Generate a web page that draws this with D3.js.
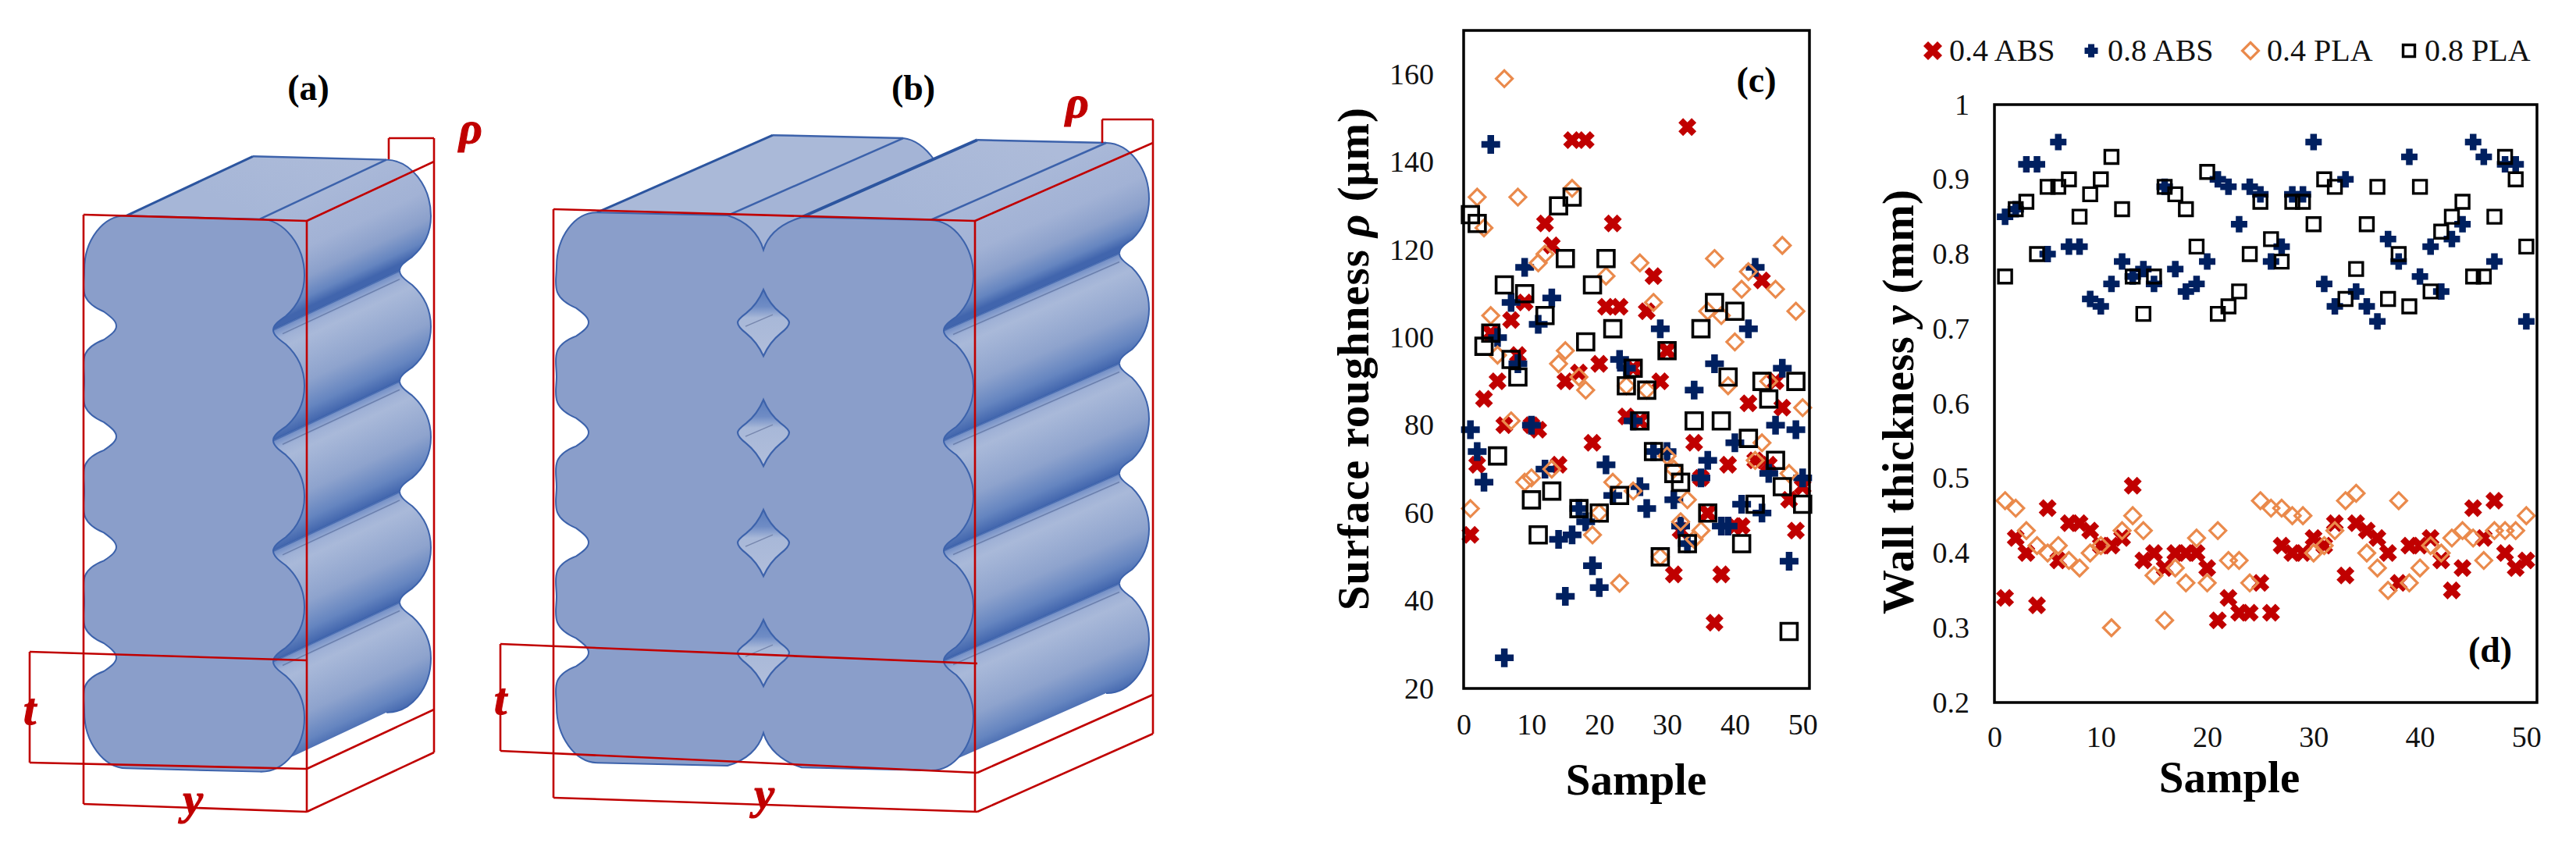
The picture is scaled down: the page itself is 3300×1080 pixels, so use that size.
<!DOCTYPE html>
<html><head><meta charset="utf-8">
<script src="https://cdnjs.cloudflare.com/ajax/libs/d3/7.8.5/d3.min.js"></script>
<style>html,body{margin:0;padding:0;background:#fff}svg{display:block}text{font-family:"Liberation Serif",serif}</style>
</head><body><svg id="c" width="3300" height="1080"></svg>
<script>
// ---- chart (c): surface roughness, sample 1..50
const samples = d3.range(1,51);
const rough04ABS = [55,71,86,101,90,80,104,96,108,80,79,126,121,71,90,145,92,145,76,94,107,126,107,82,93,81,106,114,90,97,46,56,148,76,68,60,35,46,71,57,57,85,72,113,71,90,84,63,56,66];
const rough08ABS = [79,74,67,144,100,27,108,94,116,80,103,70,109,54,41,55,61,58,48,43,71,64,95,93,81,66,61,74,102,74,63,57,53,88,68,72,94,57,57,76,62,102,116,60,69,80,93,49,79,68];
const rough04PLA = [61,132,125,105,96,159,81,132,67,68,117,119,70,94,97,134,91,88,55,60,114,67,44,89,65,117,88,108,50,73,70,58,63,54,56,106,118,105,89,99,111,115,72,76,90,111,121,69,106,84];
const rough08PLA = [128,126,98,101,73,112,95,91,110,63,55,105,65,130,118,132,61,99,112,60,118,102,64,89,93,81,88,74,50,97,69,67,53,81,102,60,108,81,91,106,53,77,62,90,86,72,66,33,90,62];
// ---- chart (d): wall thickness
const wall04ABS = [.34,.42,.40,.33,.46,.39,.44,.44,.43,.41,.41,.42,.49,.39,.40,.38,.40,.40,.40,.38,.31,.34,.32,.32,.36,.32,.41,.40,.40,.42,.41,.44,.37,.44,.43,.42,.40,.36,.41,.41,.42,.39,.35,.38,.46,.42,.47,.40,.38,.39];
const wall08ABS = [.85,.86,.92,.92,.80,.95,.81,.81,.74,.73,.76,.79,.77,.78,.76,.89,.78,.75,.76,.79,.90,.89,.84,.89,.88,.79,.81,.88,.88,.95,.76,.73,.90,.75,.73,.71,.82,.79,.93,.77,.81,.75,.82,.84,.95,.93,.79,.92,.92,.71];
const wall04PLA = [.47,.46,.43,.41,.40,.41,.39,.38,.40,.41,.30,.43,.45,.43,.37,.31,.38,.36,.42,.36,.43,.39,.39,.36,.47,.46,.46,.45,.45,.40,.41,.43,.47,.48,.40,.38,.35,.47,.36,.38,.41,.40,.42,.43,.42,.39,.43,.43,.43,.45];
const wall08PLA = [.77,.86,.87,.80,.89,.89,.90,.85,.88,.90,.93,.86,.77,.72,.77,.89,.88,.86,.81,.91,.72,.73,.75,.80,.87,.82,.79,.87,.87,.84,.90,.89,.74,.78,.84,.89,.74,.80,.73,.89,.75,.83,.85,.87,.77,.77,.85,.93,.90,.81];
const seriesNames = ["0.4 ABS","0.8 ABS","0.4 PLA","0.8 PLA"];
const seriesKinds = ["x","plus","diamond","square"];
const seriesColors = ["#c00000","#002060","#ea8a4c","#000000"];
const xTicks = [0,10,20,30,40,50];
const roughTicks = [20,40,60,80,100,120,140,160];
const wallTicks = [.2,.3,.4,.5,.6,.7,.8,.9,1];

const svg = d3.select("#c");
const RED="#c00000", BLUE="#3c62ab";
const defs = svg.append("defs");

// ---------- marker drawing ----------
function markerPath(kind, s){
  const p=d3.path();
  if(kind==="x"){p.moveTo(-s.x,-s.x);p.lineTo(s.x,s.x);p.moveTo(-s.x,s.x);p.lineTo(s.x,-s.x);}
  if(kind==="plus"){p.moveTo(-s.p,0);p.lineTo(s.p,0);p.moveTo(0,-s.p);p.lineTo(0,s.p);}
  if(kind==="diamond"){p.moveTo(0,-s.d);p.lineTo(s.d,0);p.lineTo(0,s.d);p.lineTo(-s.d,0);p.closePath();}
  if(kind==="square"){p.rect(-s.s,-s.s,2*s.s,2*s.s);}
  return p.toString();
}
function strokeW(kind,s){return kind==="x"?s.xw:kind==="plus"?s.pw:kind==="diamond"?s.dw:s.sw;}
function drawMarker(g,kind,color,s){
  return g.append("path").attr("d",markerPath(kind,s)).attr("fill","none").attr("stroke",color)
    .attr("stroke-width",strokeW(kind,s)).attr("stroke-linejoin","miter");
}

// ---------- scatter charts ----------
function chart(o){
  const x=d3.scaleLinear().domain([0,51]).range([o.l,o.r]);
  const y=d3.scaleLinear().domain(o.dom).range([o.b,o.t]);
  const g=svg.append("g");
  const ax=g.append("g").attr("transform",`translate(0,${o.b})`)
    .call(d3.axisBottom(x).tickValues(xTicks).tickSize(0).tickPadding(o.xpad).tickFormat(d=>d));
  const ay=g.append("g").attr("transform",`translate(${o.l},0)`)
    .call(d3.axisLeft(y).tickValues(o.ticks).tickSize(0).tickPadding(o.ypad).tickFormat(d=>d));
  [ax,ay].forEach(a=>{a.select(".domain").remove();
    a.selectAll("text").attr("font-family","Liberation Serif").attr("font-size",o.fs).attr("fill","#111");});
  o.series.forEach((vals,i)=>{
    vals.forEach((v,k)=>{
      drawMarker(g.append("g").attr("transform",`translate(${x(samples[k])},${y(v)})`),seriesKinds[i],seriesColors[i],o.size);
    });
  });
  g.append("rect").attr("x",o.l).attr("y",o.t).attr("width",o.r-o.l).attr("height",o.b-o.t)
    .attr("fill","none").attr("stroke","#000").attr("stroke-width",3.5);
}
chart({l:1875,r:2318,t:39,b:882,dom:[20,170],ticks:roughTicks,fs:38,xpad:32,ypad:38,
  series:[rough04ABS,rough08ABS,rough04PLA,rough08PLA],
  size:{x:8.5,xw:8.5,p:12,pw:8.5,d:10.5,dw:3.2,s:10.5,sw:3.6}});
chart({l:2555,r:3250,t:134,b:900,dom:[.2,1],ticks:wallTicks,fs:38,xpad:30,ypad:32,
  series:[wall04ABS,wall08ABS,wall04PLA,wall08PLA],
  size:{x:8.5,xw:8.5,p:10.5,pw:8.5,d:10.5,dw:3.2,s:8.5,sw:3.4}});

function label(txt,x,y,size,opt={}){
  const t=svg.append("text").attr("x",x).attr("y",y).attr("font-size",size)
    .attr("text-anchor",opt.anchor||"middle").attr("fill",opt.fill||"#000")
    .attr("font-weight",opt.weight||"bold");
  if(opt.italic)t.attr("font-style","italic");
  if(opt.heavy)t.attr("stroke",opt.fill||"#000").attr("stroke-width",opt.heavy);
  if(opt.rot!=null)t.attr("transform",`rotate(${opt.rot} ${x} ${y})`);
  if(opt.len)t.attr("textLength",opt.len).attr("lengthAdjust","spacing");
  return t.text(txt);
}
// axis titles
label("Sample",2096,1018,57);
label("Sample",2856,1015,57);
const yt1=label("",1753,460,57,{rot:-90,len:644});
yt1.append("tspan").text("Surface roughness ");
yt1.append("tspan").attr("font-style","italic").text("ρ");
yt1.append("tspan").text("  (μm)");
const yt2=label("",2451,515,57,{rot:-90,len:544});
yt2.append("tspan").text("Wall thickness ");
yt2.append("tspan").attr("font-style","italic").text("y");
yt2.append("tspan").text(" (mm)");
// panel labels
label("(c)",2250,118,46);
label("(d)",3190,848,46);
label("(a)",395,128,46);
label("(b)",1170,128,46);

// legend
const legendSize={x:9,xw:8.5,p:8.5,pw:8,d:10.5,dw:3.2,s:7.5,sw:3.4};
const legendMarkX=[2476,2679,2883,3086], legendTextX=[2497,2700,2904,3106];
seriesNames.forEach((n,i)=>{
  drawMarker(svg.append("g").attr("transform",`translate(${legendMarkX[i]},65)`),seriesKinds[i],seriesColors[i],legendSize);
  label(n,legendTextX[i],78,40,{anchor:"start",weight:"normal",fill:"#111"});
});

// ---------- 3D illustrations ----------
const layers=5;
function grad(id,x1,y1,x2,y2,stops){
  const g=defs.append("linearGradient").attr("id",id).attr("gradientUnits","userSpaceOnUse")
    .attr("x1",x1).attr("y1",y1).attr("x2",x2).attr("y2",y2);
  stops.forEach(s=>g.append("stop").attr("offset",s[0]).attr("stop-color",s[1]));
  return `url(#${id})`;
}
// one side of a stack of beads: list of lobes, each a start point + cubic segments
function sideLobes(B){
  const {bulge:xb,neck:xn,flat:xf,y0,P}=B, s=Math.sign(xb-xn), out=[], hook=14;
  const T=(x,y)=>[x,y+B.shear*(x-B.x0)];
  for(let k=0;k<layers;k++){
    const yt=y0+k*P, yb=yt+P, yc=yt+P/2, segs=[];
    let start;
    if(k===0){
      start=[xf,yt];
      segs.push([[xf+.55*(xb-xf),yt],[xb,yt+.23*P],[xb,yc]]);
    }else{
      start=[xn-s*2,yt];
      segs.push([[xn-s*2,yt+6],[xn+s*4,yt+11],[xn+s*hook,yt+18]]);
      segs.push([[xb-s*.23*(xb-xn),yt+.223*P],[xb,yt+.353*P],[xb,yc]]);
    }
    if(k===layers-1){
      segs.push([[xb,yb-.23*P],[xf+.55*(xb-xf),yb],[xf,yb]]);
    }else{
      segs.push([[xb,yb-.353*P],[xb-s*.23*(xb-xn),yb-.223*P],[xn+s*hook,yb-18]]);
      segs.push([[xn+s*4,yb-11],[xn-s*2,yb-6],[xn-s*2,yb]]);
    }
    out.push({start:T(...start),segs:segs.map(sg=>sg.map(p=>T(...p))),raw:{yt,yb}});
  }
  return out;
}
function fw(l,dx=0,dy=0,move=true){
  let d=(move?"M":"L")+(l.start[0]+dx)+","+(l.start[1]+dy);
  l.segs.forEach(sg=>{d+="C"+sg.map(p=>(p[0]+dx)+","+(p[1]+dy)).join(" ");});
  return d;
}
function rv(l,dx=0,dy=0){
  const pts=[l.start]; l.segs.forEach(sg=>pts.push(sg[2]));
  let e=pts[pts.length-1], d="L"+(e[0]+dx)+","+(e[1]+dy);
  for(let i=l.segs.length-1;i>=0;i--){
    const sg=l.segs[i], to=pts[i];
    d+="C"+[sg[1],sg[0],to].map(p=>(p[0]+dx)+","+(p[1]+dy)).join(" ");
  }
  return d;
}
const lobeStops=[[0,"#6f8cc5"],[.1,"#9fb1d6"],[.2,"#a9b9d9"],[.6,"#8ea3cd"],[.85,"#6585c0"],[1,"#4165ad"]];
const firstStops=[[0,"#a9b8d8"],[.45,"#a2b2d5"],[.72,"#8ba0cb"],[.9,"#6585c0"],[1,"#4165ad"]];
function drawLobes(g,R,d,id){
  const len=Math.hypot(d[0],d[1]), n=[-d[1]/len,d[0]/len];
  R.forEach((l,i)=>{
    const st=l.start, span=R[0].raw.yb-R[0].raw.yt, q=span*n[1];
    const f=grad(`${id}${i}`,st[0],st[1],st[0]+n[0]*q,st[1]+n[1]*q,i===0?firstStops:lobeStops);
    g.append("path").attr("d",fw(l)+rv(l,d[0],d[1])+"Z").attr("fill",f);
    g.append("path").attr("d",fw(l,d[0],d[1])).attr("fill","none").attr("stroke",BLUE).attr("stroke-width",2);
    if(i>0){
      g.append("path").attr("d",`M${st[0]},${st[1]}L${st[0]+d[0]},${st[1]+d[1]}`).attr("stroke",BLUE).attr("stroke-width",2.5).attr("opacity",.75);
      const a=[st[0]+12,st[1]+5], b=[st[0]+d[0],st[1]+d[1]+11];
      g.append("path").attr("d",`M${a[0]},${a[1]}L${b[0]},${b[1]}`).attr("stroke","#6c80ad").attr("stroke-width",1.6);
    }
  });
}
function poly(g,pts,fill){g.append("path").attr("d",d3.line()(pts)+"Z").attr("fill",fill);}
function line(g,a,b,c=BLUE,w=3){g.append("path").attr("d",`M${a[0]},${a[1]}L${b[0]},${b[1]}`).attr("stroke",c).attr("stroke-width",w).attr("fill","none");}
const FRONT="#8a9eca", TOP="#aab9d8";

function redLines(g,segs){
  segs.forEach(s=>line(g,s[0],s[1],RED,2.6));
}

// ---- (a)
(function(){
  const g=svg.append("g");
  const d=[162,-76], y0=275, P=141.6, sh=.025, x0=108;
  const RL=sideLobes({bulge:390,neck:352,flat:333,y0,P,shear:sh,x0});
  const LL=sideLobes({bulge:108,neck:147,flat:162,y0,P,shear:sh,x0});
  const A=LL[0].start, C=RL[0].start;
  const topG=grad("topA",C[0],C[1],C[0]+50,C[1]-110,[[0,"#a6b6d7"],[1,"#adbbd9"]]);
  poly(g,[A,[A[0]+d[0],A[1]+d[1]],[C[0]+d[0],C[1]+d[1]],C],topG);
  drawLobes(g,RL,d,"la");
  line(g,A,[A[0]+d[0],A[1]+d[1]],"#2c559f",3);
  line(g,[A[0]+d[0],A[1]+d[1]],[C[0]+d[0],C[1]+d[1]],BLUE,2.5);
  line(g,C,[C[0]+d[0],C[1]+d[1]],BLUE,2.5);
  let dp=fw(RL[0]);
  RL.slice(1).forEach(l=>dp+=fw(l,0,0,false));
  [...LL].reverse().forEach(l=>dp+=rv(l));
  g.append("path").attr("d",dp+"Z").attr("fill",FRONT).attr("stroke",BLUE).attr("stroke-width",2);
  // red dimension lines
  redLines(g,[
    [[107,275],[393,283]],[[107,275],[107,1030]],[[393,283],[393,1040]],[[107,1030],[393,1040]],
    [[393,283],[556,207]],[[556,177],[556,964]],[[498,177],[556,177]],[[498,177],[498,204]],
    [[38,835],[393,846]],[[38,977],[393,985]],[[38,835],[38,977]],
    [[393,985],[556,909]],[[393,1040],[556,964]]
  ]);
  label("ρ",603,183,58,{fill:RED,italic:true,heavy:1.2});
  label("t",38,928,58,{fill:RED,italic:true,heavy:1.2});
  label("y",247,1043,58,{fill:RED,italic:true,heavy:1.2});
})();

// ---- (b)
(function(){
  const g=svg.append("g");
  const d=[225,-99], y0=271, P=141, sh=.023, x0=713;
  const RL=sideLobes({bulge:1247,neck:1211,flat:1192,y0,P,shear:sh,x0});
  const LL=sideLobes({bulge:713,neck:752,flat:765,y0,P,shear:sh,x0});
  const T=(x,y)=>[x,y+sh*(x-x0)];
  const A=LL[0].start, C=RL[0].start, N1=T(932,y0), N2=T(1027,y0), tip=T(978,y0+43);
  const add=(p)=>[p[0]+d[0],p[1]+d[1]];
  // left bead top, then its lobe behind right bead
  poly(g,[A,add(A),add(N1),N1],TOP);
  g.append("path").attr("d",`M${N1}L${add(N1)}C${add(N1)[0]+18},${add(N1)[1]+2} ${add(N1)[0]+30},${add(N1)[1]+14} ${add(N1)[0]+40},${add(N1)[1]+28}L${add(N2)[0]-40},${add(N2)[1]+30}L${N2}L${tip}Z`).attr("fill","#a4b4d6");
  g.append("path").attr("d",`M${add(N1)}C${add(N1)[0]+18},${add(N1)[1]+2} ${add(N1)[0]+30},${add(N1)[1]+14} ${add(N1)[0]+40},${add(N1)[1]+28}`).attr("fill","none").attr("stroke",BLUE).attr("stroke-width",2);
  line(g,A,add(A),"#2c559f",3);
  line(g,add(A),add(N1),BLUE,2.5);
  line(g,N1,add(N1),BLUE,2.5);
  // right bead top
  const topG=grad("topB",C[0],C[1],C[0]+60,C[1]-130,[[0,"#a6b6d7"],[1,"#adbbd9"]]);
  poly(g,[N2,add(N2),add(C),C],topG);
  drawLobes(g,RL,d,"lb");
  line(g,N2,add(N2),"#2c559f",4);
  line(g,add(N2),add(C),BLUE,2.5);
  line(g,C,add(C),BLUE,2.5);
  // front
  const notch=(a,t,b)=>{const s=Math.sign(t[1]-a[1]), h=Math.sign(b[0]-a[0]);
    return `C${a[0]+h*26},${a[1]+s*8} ${t[0]-h*6},${t[1]-s*20} ${t[0]},${t[1]}C${t[0]+h*6},${t[1]-s*20} ${b[0]-h*26},${b[1]+s*8} ${b[0]},${b[1]}`;};
  const yB=y0+layers*P;
  const Nb1=T(932,yB), Nb2=T(1027,yB), tipB=T(978,yB-43);
  let dp=`M${A}L${N1}`+notch(N1,tip,N2)+`L${C}`;
  dp+=fw(RL[0]).replace(/^M[^C]*/,"");
  RL.slice(1).forEach(l=>dp+=fw(l,0,0,false));
  const BLl=LL[4], endL=BLl.segs[BLl.segs.length-1][2];
  dp+=`L${Nb2}`+notch(Nb2,tipB,Nb1)+`L${endL}`;
  [...LL].reverse().forEach(l=>dp+=rv(l).replace(/^L[^C]*/,"")+"");
  g.append("path").attr("d",dp+"Z").attr("fill",FRONT).attr("stroke",BLUE).attr("stroke-width",2);
  // diamonds between beads
  const diaG=grad("dia",0,-42,0,44,[[0,"#5b7dbc"],[.25,"#6f8cc5"],[.42,"#a8b8d8"],[1,"#b1bedb"]]);
  for(let k=1;k<layers;k++){
    const c=T(978,y0+k*P-5);
    const dg=g.append("g").attr("transform",`translate(${c})`);
    dg.append("path").attr("d","M0,-42C5,-30 12,-20 22,-12C30,-6 33,-3 33,0C33,4 30,8 22,14C12,22 5,32 0,43C-5,32 -12,22 -22,14C-30,8 -33,4 -33,0C-33,-3 -30,-6 -22,-12C-12,-20 -5,-30 0,-42Z")
      .attr("fill",diaG).attr("stroke",BLUE).attr("stroke-width",2.2);
    dg.append("path").attr("d","M-23,5L12,-10").attr("stroke","#7686ad").attr("stroke-width",1.5);
  }
  redLines(g,[
    [[709,268],[1249,283]],[[709,268],[709,1022]],[[1249,283],[1249,1040]],[[709,1022],[1252,1040]],
    [[1249,283],[1477,183]],[[1477,153],[1477,940]],[[1412,153],[1477,153]],[[1412,153],[1412,183]],
    [[641,825],[1252,850]],[[641,962],[1252,990]],[[641,825],[641,962]],
    [[1252,990],[1477,890]],[[1252,1040],[1477,940]]
  ]);
  label("ρ",1380,150,58,{fill:RED,italic:true,heavy:1.2});
  label("t",641,915,58,{fill:RED,italic:true,heavy:1.2});
  label("y",979,1036,58,{fill:RED,italic:true,heavy:1.2});
})();
</script></body></html>
